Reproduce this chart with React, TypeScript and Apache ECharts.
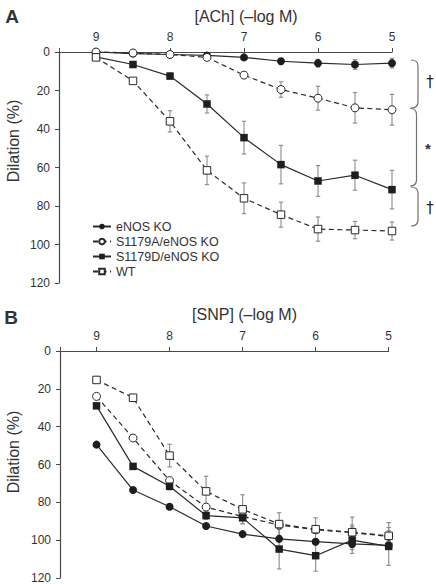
import React, { useEffect, useRef } from "react";
import * as echarts from "echarts";

// concentrations (-log M)
const conc = [9, 8.5, 8, 7.5, 7, 6.5, 6, 5.5, 5];
const seriesNames = ["eNOS KO", "S1179A/eNOS KO", "S1179D/eNOS KO", "WT"];
const xTickLabels = [9, 8, 7, 6, 5];

// Panel A: ACh
const achENOS = [0, 0.8, 1.3, 1.8, 2.8, 4.8, 5.8, 6.5, 5.8];
const achENOSErr = [0, 0, 0.5, 0.5, 1, 1.5, 2, 2.5, 2.5];
const achS1179A = [0, 0.5, 1.3, 2.8, 12, 19.5, 24, 29, 30];
const achS1179AErr = [0, 0, 0, 0, 1, 4, 6.2, 7.9, 8];
const achS1179D = [2.5, 6.5, 12.5, 27, 44.5, 58.5, 67, 64, 71.5];
const achS1179DErr = [0, 1, 1.5, 4.7, 8.5, 10, 8, 7.8, 10];
const achWT = [2.8, 15, 36, 61.5, 76, 84.5, 92, 92.5, 93];
const achWTErr = [0, 1, 5.5, 7.4, 8, 6.5, 6.3, 4.5, 4.7];

// Panel B: SNP
const snpENOS = [49.5, 73.5, 82.3, 92.5, 96.8, 99.3, 100.8, 102, 102.8];
const snpENOSErr = [0, 0, 0, 0, 0, 1.5, 1.5, 3, 2];
const snpS1179A = [24, 46, 68.5, 82.5, 87.5, 92, 94.5, 96, 98];
const snpS1179AErr = [0, 0, 0, 0, 0, 2, 2, 4, 3];
const snpS1179D = [29, 61, 71.5, 87, 88.2, 104.7, 108.2, 100, 103.3];
const snpS1179DErr = [0, 0, 2, 2, 3, 10.5, 8.2, 7, 10];
const snpWT = [15.3, 24.7, 55.3, 74.2, 83.7, 91.5, 94.2, 95.8, 97.7];
const snpWTErr = [0, 0, 6, 8, 7.7, 6, 6, 8, 7];

const FONT = '"Liberation Sans", Arial, Helvetica, sans-serif';
const LINE = "#2a2a2a";
const ERR = "#8a8a8a";
const AXIS = "#4a4a4a";
const TEXT = "#333";

const styles = [
  { dashed: false, symbol: "circle", filled: true },
  { dashed: true, symbol: "circle", filled: false },
  { dashed: false, symbol: "rect", filled: true },
  { dashed: true, symbol: "rect", filled: false },
];

function lineSeries(idx: number, vals: number[], gi: number) {
  const st = styles[idx];
  return {
    type: "line",
    name: seriesNames[idx],
    xAxisIndex: gi,
    yAxisIndex: gi,
    data: conc.map((c, i) => [c, vals[i]]),
    symbol: st.symbol,
    symbolSize: st.symbol === "rect" ? 7.5 : 8,
    showAllSymbol: true,
    z: 3,
    lineStyle: { color: LINE, width: 1.2, type: st.dashed ? [5, 3.5] : "solid" },
    itemStyle: {
      color: st.filled ? "#1e1e1e" : "#ffffff",
      borderColor: "#2a2a2a",
      borderWidth: st.filled ? 0 : 1,
    },
    emphasis: { disabled: true },
    clip: false,
  };
}

function errSeries(vals: number[], errs: number[], gi: number) {
  return {
    type: "custom",
    xAxisIndex: gi,
    yAxisIndex: gi,
    z: 2,
    clip: false,
    encode: { x: 0, y: 1 },
    data: conc.map((c, i) => [c, vals[i], errs[i]]),
    renderItem: (params: any, api: any) => {
      const x = api.value(0);
      const y = api.value(1);
      const e = api.value(2);
      if (!e) return { type: "group", children: [] };
      const top = api.coord([x, y - e]);
      const bot = api.coord([x, y + e]);
      const w = 2.2;
      const s = { stroke: ERR, lineWidth: 1.1 };
      return {
        type: "group",
        children: [
          { type: "line", shape: { x1: top[0], y1: top[1], x2: bot[0], y2: bot[1] }, style: s },
          { type: "line", shape: { x1: top[0] - w, y1: top[1], x2: top[0] + w, y2: top[1] }, style: s },
          { type: "line", shape: { x1: bot[0] - w, y1: bot[1], x2: bot[0] + w, y2: bot[1] }, style: s },
        ],
      };
    },
  };
}

function xAxis(gi: number) {
  return {
    type: "value",
    gridIndex: gi,
    position: "top",
    inverse: true,
    min: 5,
    max: 9.5,
    interval: 1,
    axisLine: { show: true, onZero: false, lineStyle: { color: AXIS, width: 1.2 } },
    axisTick: { show: true, inside: false, length: 4, lineStyle: { color: AXIS, width: 1 } },
    axisLabel: {
      margin: 9,
      fontSize: 12,
      color: TEXT,
      fontFamily: FONT,
      formatter: (v: number) => (xTickLabels.indexOf(v) >= 0 ? String(v) : ""),
    },
    splitLine: { show: false },
  };
}

function yAxis(gi: number) {
  return {
    type: "value",
    gridIndex: gi,
    inverse: true,
    min: 0,
    max: 120,
    interval: 20,
    axisLine: { show: true, onZero: false, lineStyle: { color: AXIS, width: 1.2 } },
    axisTick: { show: true, inside: false, length: 4, lineStyle: { color: AXIS, width: 1 } },
    axisLabel: { margin: 9, fontSize: 12, color: TEXT, fontFamily: FONT },
    splitLine: { show: false },
  };
}

function brace(x: number, xv: number, top: number, bottom: number) {
  const h = 6;
  const s = { stroke: "#707070", lineWidth: 1.2, fill: null };
  return [
    { type: "bezierCurve", shape: { x1: x, y1: top, cpx1: xv, cpy1: top, x2: xv, y2: top + h }, style: s },
    { type: "line", shape: { x1: xv, y1: top + h, x2: xv, y2: bottom - h }, style: s },
    { type: "bezierCurve", shape: { x1: xv, y1: bottom - h, cpx1: xv, cpy1: bottom, x2: x, y2: bottom }, style: s },
  ];
}

function txt(text: string, x: number, y: number, font: string, extra: any = {}) {
  return {
    type: "text",
    x,
    y,
    ...extra,
    style: { text, font, fill: TEXT, align: "center", verticalAlign: "middle", ...(extra.style || {}) },
  };
}

export default function App() {
  const ref = useRef<HTMLDivElement>(null);
  useEffect(() => {
    if (!ref.current) return;
    const chart = echarts.init(ref.current, null, { renderer: "svg" });
    const option: any = {
      animation: false,
      backgroundColor: "#ffffff",
      grid: [
        { left: 59, top: 52, width: 333, height: 231 },
        { left: 60, top: 351, width: 328.7, height: 228 },
      ],
      xAxis: [xAxis(0), xAxis(1)],
      yAxis: [yAxis(0), yAxis(1)],
      legend: {
        data: seriesNames,
        orient: "vertical",
        left: 87,
        top: 215,
        itemWidth: 18,
        itemHeight: 7,
        itemGap: 2,
        selectedMode: false,
        textStyle: { fontSize: 12.5, color: TEXT, fontFamily: FONT, lineHeight: 13 },
      },
      series: [
        errSeries(achENOS, achENOSErr, 0),
        errSeries(achS1179A, achS1179AErr, 0),
        errSeries(achS1179D, achS1179DErr, 0),
        errSeries(achWT, achWTErr, 0),
        lineSeries(0, achENOS, 0),
        lineSeries(1, achS1179A, 0),
        lineSeries(2, achS1179D, 0),
        lineSeries(3, achWT, 0),
        errSeries(snpENOS, snpENOSErr, 1),
        errSeries(snpS1179A, snpS1179AErr, 1),
        errSeries(snpS1179D, snpS1179DErr, 1),
        errSeries(snpWT, snpWTErr, 1),
        lineSeries(0, snpENOS, 1),
        lineSeries(1, snpS1179A, 1),
        lineSeries(2, snpS1179D, 1),
        lineSeries(3, snpWT, 1),
      ],
      graphic: [
        txt("A", 12, 16, `bold 19px ${FONT}`),
        txt("B", 11, 317, `bold 19px ${FONT}`),
        txt("[ACh] (\u2013log M)", 246, 16, `16px ${FONT}`),
        txt("[SNP] (\u2013log M)", 244.5, 314, `16px ${FONT}`),
        txt("Dilation (%)", 13, 141, `16px ${FONT}`, { rotation: Math.PI / 2 }),
        txt("Dilation (%)", 13, 452, `16px ${FONT}`, { rotation: Math.PI / 2 }),
        ...brace(411, 418, 60, 108),
        ...brace(410, 416.5, 108.5, 186),
        ...brace(411, 418, 187, 226),
        txt("\u2020", 430, 82, `15px "DejaVu Sans", sans-serif`, { style: { fill: "#222" } }),
        txt("*", 428, 148, `bold 15px ${FONT}`),
        txt("\u2020", 430, 208, `15px "DejaVu Sans", sans-serif`, { style: { fill: "#222" } }),
      ],
    };
    chart.setOption(option);
    return () => chart.dispose();
  }, []);
  return (
    <div
      ref={ref}
      style={{ position: "absolute", left: 0, top: 0, width: 436, height: 584, background: "#fff" }}
    />
  );
}
